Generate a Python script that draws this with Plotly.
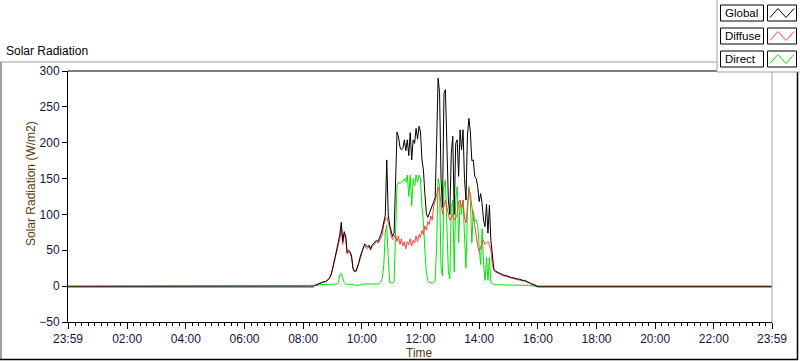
import plotly.graph_objects as go

# ---------------- data ----------------
# time in minutes after midnight; the axis runs 23:59 (prev day) -> 23:59
day_start = -1
day_end = 1439
sample_start = 480      # 08:00
sample_step = 3         # minutes between samples

global_night = -1
diffuse_night = 0
direct_night = 0

global_rad = [
    -1, -1, -1, -1, -1, -1, -1, -1, 1, 2,                 # 08:00
    3, 4, 5, 5, 6, 6, 7, 9, 12, 16,                       # 08:30
    24, 35, 45, 52, 62, 72, 89, 62, 76, 70,               # 09:00
    47, 50, 48, 42, 25, 21, 21, 26, 33, 42,               # 09:30
    48, 55, 59, 56, 55, 57, 52, 57, 59, 62,               # 10:00
    64, 62, 66, 72, 80, 92, 99, 176, 100, 85,             # 10:30
    75, 69, 74, 135, 215, 208, 194, 190, 192, 204,        # 11:00
    189, 204, 182, 214, 176, 204, 199, 220, 205, 223,     # 11:30
    215, 176, 162, 129, 101, 96, 101, 106, 113, 118,      # 12:00
    123, 200, 290, 270, 150, 110, 269, 274, 209, 120,     # 12:30
    100, 185, 209, 100, 199, 204, 153, 218, 190, 218,     # 13:00
    150, 120, 209, 234, 215, 175, 176, 153, 150, 139,     # 13:30
    118, 129, 115, 92, 83, 114, 74, 113, 64, 40,          # 14:00
    24, 21, 20, 18, 17, 17, 16, 15, 15, 14,               # 14:30
    14, 13, 12, 12, 11, 11, 10, 10, 9, 9,                 # 15:00
    8, 8, 7, 6, 5, 5, 4, 3, 2, 1,                         # 15:30
    -1,                                                   # 16:00
]

diffuse_rad = [
    0, 0, 0, 0, 0, 0, 0, 0, 1, 2,
    3, 4, 5, 5, 6, 6, 7, 9, 11, 15,
    23, 33, 43, 50, 58, 66, 80, 58, 72, 66,
    45, 48, 46, 40, 24, 20, 20, 25, 32, 40,
    46, 53, 56, 53, 53, 55, 50, 55, 57, 60,
    62, 60, 63, 67, 72, 86, 92, 96, 89, 82,
    70, 65, 68, 72, 62, 70, 58, 66, 56, 62,
    52, 62, 58, 66, 56, 64, 60, 70, 62, 72,
    68, 78, 72, 84, 78, 90, 86, 98, 92, 112,
    118, 128, 138, 130, 118, 100, 112, 120, 110, 100,
    92, 95, 100, 92, 95, 100, 118, 120, 110, 120,
    95, 88, 115, 135, 128, 110, 95, 85, 66, 56,
    48, 55, 60, 64, 58, 60, 62, 58, 50, 30,
    22, 20, 19, 17, 16, 16, 15, 14, 14, 13,
    13, 12, 11, 11, 10, 10, 9, 9, 8, 8,
    7, 7, 6, 5, 5, 4, 3, 3, 2, 1,
    0,
]

direct_rad = [
    0, 0, 0, 0, 0, 0, 0, 0, 1, 1,
    1, 2, 2, 2, 2, 2, 2, 2, 2, 2,
    2, 3, 3, 3, 5, 16, 18, 11, 5, 3,
    3, 2, 3, 2, 2, 2, 1, 1, 1, 2,
    2, 3, 3, 2, 2, 2, 3, 2, 2, 2,
    2, 3, 4, 6, 12, 30, 75, 85, 40, 5,
    5, 4, 6, 74, 140, 145, 143, 145, 146, 150,
    145, 155, 125, 155, 112, 150, 140, 155, 145, 155,
    150, 110, 90, 50, 18, 8, 5, 5, 4, 5,
    8, 55, 150, 140, 26, 14, 139, 148, 90, 20,
    10, 110, 120, 20, 120, 139, 60, 120, 100, 120,
    70, 25, 101, 139, 120, 60, 105, 90, 92, 85,
    55, 30, 80, 30, 8, 40, 8, 40, 5, 3,
    2, 2, 2, 2, 1, 1, 2, 2, 2, 2,
    1, 1, 1, 1, 1, 1, 1, 1, 1, 1,
    1, 1, 1, 1, 1, 1, 1, 0, 0, 0,
    0,
]

x_tick_values = [-1, 120, 240, 360, 480, 600, 720, 840, 960, 1080, 1200, 1320, 1439]
x_tick_labels = ["23:59", "02:00", "04:00", "06:00", "08:00", "10:00", "12:00",
                 "14:00", "16:00", "18:00", "20:00", "22:00", "23:59"]
y_tick_values = [-50, 0, 50, 100, 150, 200, 250, 300]

series_names = ["Global", "Diffuse", "Direct"]
series_colors = {"Global": "#000000", "Diffuse": "#ff4040", "Direct": "#00e600"}

# ---------------- figure ----------------
W, H = 800, 361
L, R, T, B = 68, 28, 71, 39
PW, PH = W - L - R, H - T - B


def px(xp):
    return (xp - L) / PW


def py(yp):
    return (H - B - yp) / PH


sample_times = [sample_start + sample_step * i for i in range(len(global_rad))]


def full(vals, night):
    return [day_start] + sample_times + [day_end], [night] + vals + [night]


fig = go.Figure()
for name, vals, night in [("Direct", direct_rad, direct_night),
                          ("Diffuse", diffuse_rad, diffuse_night),
                          ("Global", global_rad, global_night)]:
    xs, ys = full(vals, night)
    fig.add_trace(go.Scatter(x=xs, y=ys, mode="lines", name=name,
                             line=dict(color=series_colors[name], width=1),
                             showlegend=False, hoverinfo="skip"))

FONT = "Liberation Sans, Arial, sans-serif"
tick_font = dict(family=FONT, size=12, color="#14143c")
label_color = "#5a3a0a"

fig.update_layout(
    width=W, height=H,
    margin=dict(l=L, r=R, t=T, b=B, pad=0),
    paper_bgcolor="white", plot_bgcolor="white",
    font=dict(family=FONT, size=12, color="#000"),
    xaxis=dict(range=[day_start, day_end], tickmode="array",
               tickvals=x_tick_values, ticktext=x_tick_labels,
               ticks="outside", ticklen=6, tickwidth=1, tickcolor="#000",
               showline=True, linecolor="#000", linewidth=1,
               showgrid=False, zeroline=False, tickfont=tick_font,
               minor=dict(tick0=0, dtick=120 / 9, ticks="outside", ticklen=3,
                          tickcolor="#000", tickwidth=1, showgrid=False)),
    yaxis=dict(range=[-50, 300], tickmode="array", tickvals=y_tick_values,
               ticks="outside", ticklen=5, tickwidth=1, tickcolor="#000",
               showline=True, linecolor="#000", linewidth=1,
               showgrid=False, zeroline=False, tickfont=tick_font),
)

shapes = []


def line(x0, y0, x1, y1, color, width=1):
    shapes.append(dict(type="line", xref="paper", yref="paper",
                       x0=px(x0), y0=py(y0), x1=px(x1), y1=py(y1),
                       line=dict(color=color, width=width), layer="above"))


# plot frame: top black, right gray
line(68, 71, 717, 71, "#000")
line(772, 71, 772, 322, "#a0a0a0")
# outer panel frame
line(0, 62, 717, 62, "#a0a0a0")
line(1, 62, 1, 359, "#a0a0a0", 2)
line(0, 359.5, 798, 359.5, "#000", 1.5)
line(797.5, 72, 797.5, 360, "#000", 1.5)
# legend panel
shapes.append(dict(type="rect", xref="paper", yref="paper",
                   x0=px(717), y0=py(72), x1=px(800), y1=py(0),
                   fillcolor="white", line=dict(width=0), layer="above"))
line(717, 0, 717, 72, "#a0a0a0")
line(717, 72, 800, 72, "#a0a0a0")

annotations = []
box_tops = [5, 28, 51]
box_h = 16
for name, top in zip(series_names, box_tops):
    bot = top + box_h
    shapes.append(dict(type="rect", xref="paper", yref="paper",
                       x0=px(720.5), y0=py(bot), x1=px(763.5), y1=py(top),
                       line=dict(color="#000", width=1), fillcolor="white", layer="above"))
    shapes.append(dict(type="rect", xref="paper", yref="paper",
                       x0=px(767.5), y0=py(bot), x1=px(796.5), y1=py(top),
                       line=dict(color="#000", width=1), fillcolor="white", layer="above"))
    yb, yt = bot - 3.5, top + 3.5
    pts = [(770, yb), (778, yt), (786, yb), (794, yt)]
    path = "M " + " L ".join(f"{px(a):.5f},{py(b):.5f}" for a, b in pts)
    shapes.append(dict(type="path", xref="paper", yref="paper", path=path,
                       line=dict(color=series_colors[name], width=1), layer="above"))
    annotations.append(dict(text=name, xref="paper", yref="paper",
                            x=px(723), y=py(top + box_h / 2), xanchor="left",
                            yanchor="middle", showarrow=False,
                            font=dict(size=11.5, color="#000")))

annotations.append(dict(text="Solar Radiation", xref="paper", yref="paper",
                        x=px(4), y=py(51), xanchor="left", yanchor="middle",
                        showarrow=False, font=dict(size=12, color="#000")))
annotations.append(dict(text="Solar Radiation (W/m2)", xref="paper", yref="paper",
                        x=px(31), y=py(184), xanchor="center", yanchor="middle",
                        textangle=-90, showarrow=False,
                        font=dict(size=12, color=label_color)))
annotations.append(dict(text="Time", xref="paper", yref="paper",
                        x=px(419), y=py(353), xanchor="center", yanchor="middle",
                        showarrow=False, font=dict(size=12, color=label_color)))

fig.update_layout(shapes=shapes, annotations=annotations)
fig.write_html("out.html", config={"displayModeBar": False},
               post_script="document.body.style.margin='0';document.body.style.overflow='hidden';")
